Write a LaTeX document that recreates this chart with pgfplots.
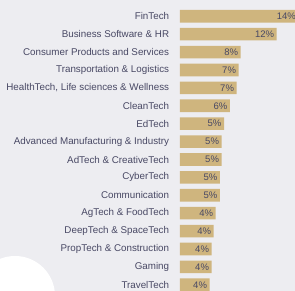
\documentclass[border=0pt]{standalone}
\usepackage{pgfplots}
\pgfplotsset{compat=1.18}
\usepackage{fontspec}
\setmainfont{Liberation Sans}
\definecolor{bg}{RGB}{237,237,241}
\definecolor{barc}{RGB}{207,181,126}
\definecolor{txt}{RGB}{72,72,100}
\begin{document}
\begin{tikzpicture}[x=1pt,y=1pt]
\useasboundingbox (0,0) rectangle (295,291);
\fill[bg] (0,0) rectangle (295,291);
\fill[white] (15,-5) circle (40);
\begin{axis}[
  at={(180pt,283.65pt)}, anchor=north west,
  scale only axis, width=115pt, height=286.4pt,
  xmin=0, xmax=14.268, ymin=-0.5, ymax=15.5, y dir=reverse,
  xbar, bar width=12.6pt,
  axis line style={draw=none}, xtick=\empty,
  ytick={0,...,15},
  yticklabels={FinTech,Business Software \& HR,Consumer Products and Services,Transportation \& Logistics,{HealthTech, Life sciences \& Wellness},CleanTech,EdTech,Advanced Manufacturing \& Industry,AdTech \& CreativeTech,CyberTech,Communication,AgTech \& FoodTech,DeepTech \& SpaceTech,PropTech \& Construction,Gaming,TravelTech},
  major tick length=0pt,
  yticklabel style={anchor=east, inner sep=0pt, xshift=-10.7pt, font=\fontsize{9.8}{11}\selectfont, text=txt},
  nodes near coords, point meta=explicit symbolic,
  nodes near coords style={anchor=east, inner sep=0pt, xshift=-2.5pt, font=\fontsize{9.5}{11}\selectfont, text=txt},
  clip=false,
]
\addplot[fill=barc, draw=none] coordinates {
(14.7,0) [14\%]
(12.0,1) [12\%]
(7.53,2) [8\%]
(7.28,3) [7\%]
(7.03,4) [7\%]
(6.2,5) [6\%]
(5.46,6) [5\%]
(5.17,7) [5\%]
(5.17,8) [5\%]
(4.96,9) [5\%]
(4.96,10) [5\%]
(4.43,11) [4\%]
(4.18,12) [4\%]
(3.93,13) [4\%]
(3.93,14) [4\%]
(3.68,15) [4\%]
};
\end{axis}
\end{tikzpicture}
\end{document}
